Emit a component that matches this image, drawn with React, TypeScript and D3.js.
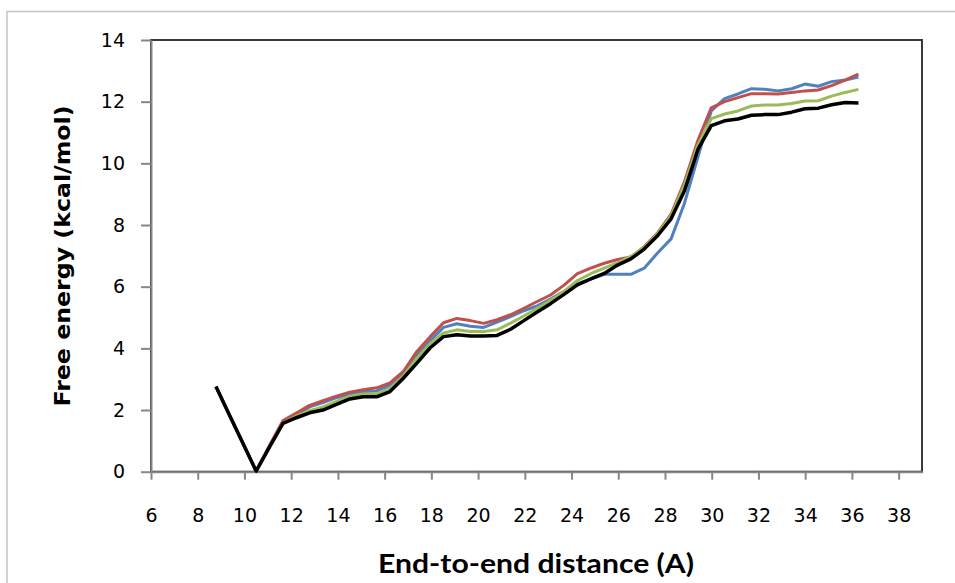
import React, { useEffect, useRef } from 'react';
import * as d3 from 'd3';

// end-to-end distance (A)
const distance = [
  8.78, 9.35, 9.93, 10.5, 11.07, 11.65, 12.22, 12.79, 13.36, 13.94,
  14.51, 15.08, 15.66, 16.23, 16.8, 17.38, 17.95, 18.52, 19.09, 19.67,
  20.24, 20.81, 21.39, 21.96, 22.53, 23.1, 23.68, 24.25, 24.82, 25.4,
  25.97, 26.54, 27.11, 27.69, 28.26, 28.83, 29.41, 29.98, 30.55, 31.12,
  31.7, 32.27, 32.84, 33.42, 33.99, 34.56, 35.13, 35.71, 36.28
];

// free energy (kcal/mol), one array per curve
const blueSeries = [
  2.76, 1.85, 0.93, 0.02, 0.83, 1.62, 1.85, 2.1, 2.24, 2.4,
  2.52, 2.6, 2.62, 2.8, 3.15, 3.78, 4.25, 4.68, 4.8, 4.72,
  4.68, 4.85, 5.03, 5.22, 5.38, 5.6, 5.85, 6.1, 6.25, 6.4,
  6.4, 6.4, 6.6, 7.1, 7.55, 8.7, 10.2, 11.7, 12.1, 12.25,
  12.42, 12.4, 12.35, 12.42, 12.57, 12.5, 12.65, 12.7, 12.8
];
const redSeries = [
  2.76, 1.85, 0.93, 0.02, 0.85, 1.66, 1.9, 2.15, 2.3, 2.45,
  2.58, 2.66, 2.72, 2.88, 3.25, 3.9, 4.38, 4.83, 4.97, 4.9,
  4.81, 4.93, 5.09, 5.3, 5.52, 5.73, 6.05, 6.42, 6.6, 6.76,
  6.88, 6.96, 7.3, 7.75, 8.35, 9.4, 10.75, 11.8, 12.0, 12.13,
  12.26, 12.26, 12.25, 12.3, 12.35, 12.38, 12.52, 12.7, 12.89
];
const greenSeries = [
  2.76, 1.85, 0.93, 0.02, 0.8, 1.58, 1.8, 1.98, 2.1, 2.28,
  2.45, 2.52, 2.52, 2.7, 3.1, 3.68, 4.15, 4.5, 4.6, 4.55,
  4.55, 4.6, 4.82, 5.05, 5.3, 5.55, 5.85, 6.2, 6.42, 6.6,
  6.78, 6.98, 7.28, 7.72, 8.3, 9.3, 10.6, 11.45, 11.6, 11.7,
  11.86, 11.89, 11.89, 11.94, 12.02, 12.03, 12.18, 12.3, 12.4
];
const blackSeries = [
  2.76, 1.85, 0.93, 0.02, 0.8, 1.57, 1.75, 1.91, 2.0, 2.18,
  2.36, 2.43, 2.43, 2.6, 3.03, 3.52, 4.02, 4.38, 4.44, 4.4,
  4.4, 4.42, 4.62, 4.9, 5.18, 5.45, 5.75, 6.06, 6.25, 6.43,
  6.7, 6.9, 7.22, 7.66, 8.2, 9.1, 10.45, 11.22, 11.38, 11.44,
  11.56, 11.58, 11.58, 11.66, 11.77, 11.79, 11.9, 11.97, 11.96
];

const xTickValues = [6, 8, 10, 12, 14, 16, 18, 20, 22, 24, 26, 28, 30, 32, 34, 36, 38];
const yTickValues = [0, 2, 4, 6, 8, 10, 12, 14];

const series = [
  { name: 'blue', values: blueSeries, color: '#4F81BD', width: 3 },
  { name: 'red', values: redSeries, color: '#C0504D', width: 3 },
  { name: 'green', values: greenSeries, color: '#9BBB59', width: 3 },
  { name: 'black', values: blackSeries, color: '#000000', width: 3.5 }
];

export default function App() {
  const node = useRef<SVGSVGElement | null>(null);

  useEffect(() => {
    const svg = d3.select(node.current);
    svg.selectAll('*').remove();

    const left = 151, top = 40, right = 922, bottom = 471.7;
    const x = d3.scaleLinear().domain([6, 39]).range([left, right]);
    const y = d3.scaleLinear().domain([0, 14]).range([bottom, top]);
    const axisGray = '#868686';

    svg.append('rect').attr('width', 955).attr('height', 583).attr('fill', '#fff');

    // outer chart frame
    svg.append('rect')
      .attr('x', 7).attr('y', 11.5).attr('width', 980).attr('height', 620)
      .attr('fill', 'none').attr('stroke', '#c4c4c4').attr('stroke-width', 1.5);

    // plot area border
    svg.append('rect')
      .attr('x', left).attr('y', top)
      .attr('width', right - left).attr('height', bottom - top)
      .attr('fill', 'none').attr('stroke', '#3a3a3a').attr('stroke-width', 2);

    const yAxisG = svg.append('g')
      .attr('transform', `translate(${left},0)`)
      .call(d3.axisLeft(y).tickValues(yTickValues).tickSize(10).tickSizeOuter(0).tickPadding(16));
    const xAxisG = svg.append('g')
      .attr('transform', `translate(0,${bottom})`)
      .call(d3.axisBottom(x).tickValues(xTickValues).tickSize(8).tickSizeOuter(0).tickPadding(29));

    [yAxisG, xAxisG].forEach(g => {
      g.select('.domain').attr('stroke', axisGray).attr('stroke-width', 2);
      g.selectAll('.tick line').attr('stroke', axisGray).attr('stroke-width', 2);
      g.selectAll('.tick text')
        .attr('fill', '#000')
        .style('font-family', '"DejaVu Sans", sans-serif')
        .style('font-size', '19px');
    });

    const line = d3.line<number>()
      .x((d, i) => x(distance[i]))
      .y(d => y(d));

    svg.append('g').selectAll('path')
      .data(series)
      .enter()
      .append('path')
      .attr('d', d => line(d.values))
      .attr('fill', 'none')
      .attr('stroke', d => d.color)
      .attr('stroke-width', d => d.width)
      .attr('stroke-linejoin', 'round');

    svg.append('text')
      .attr('x', 536).attr('y', 573)
      .attr('text-anchor', 'middle')
      .attr('textLength', 316).attr('lengthAdjust', 'spacingAndGlyphs')
      .style('font-family', 'Lato, sans-serif')
      .style('font-weight', 'bold')
      .style('font-size', '26px')
      .text('End-to-end distance (A)');

    svg.append('text')
      .attr('transform', 'translate(70,256) rotate(-90)')
      .attr('text-anchor', 'middle')
      .attr('textLength', 301).attr('lengthAdjust', 'spacingAndGlyphs')
      .style('font-family', '"DejaVu Sans", sans-serif')
      .style('font-weight', 'bold')
      .style('font-size', '21px')
      .text('Free energy (kcal/mol)');
  }, []);

  return (
    <svg ref={node} width={955} height={583}
      style={{ position: 'absolute', left: 0, top: 0, display: 'block' }} />
  );
}
